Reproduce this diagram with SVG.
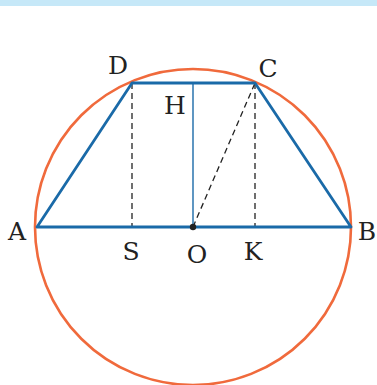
<svg xmlns="http://www.w3.org/2000/svg" width="377" height="385" viewBox="0 0 377 385">
<style>
.lbl{font-family:"DejaVu Serif","Liberation Serif",serif;font-size:25px;fill:#222;text-anchor:middle}
.dash{stroke:#222;stroke-width:1.3;stroke-dasharray:6,4;fill:none}
</style>
<rect x="0" y="0" width="377" height="6" fill="#c6e8f8"/>
<g id="circle"><circle cx="193" cy="227" r="158" fill="none" stroke="#f06a3c" stroke-width="2.6"/></g>
<g id="connectors">
<line class="dash" x1="132" y1="83" x2="132" y2="227"/>
<line class="dash" x1="255" y1="83" x2="255" y2="227"/>
<line class="dash" x1="193" y1="227" x2="255" y2="83"/>
<line x1="193" y1="83" x2="193" y2="227" stroke="#1a6aa8" stroke-width="1.4"/>
<polygon points="37,227 351,227 255,83 132,83" fill="none" stroke="#1a6aa8" stroke-width="2.8" stroke-linejoin="round"/>
</g>
<g id="O"><circle cx="193" cy="227" r="3.2" fill="#222"/><text class="lbl" x="197" y="263">O</text></g>
<g id="A"><text class="lbl" x="17" y="240">A</text></g>
<g id="B"><text class="lbl" x="367" y="240">B</text></g>
<g id="C"><text class="lbl" x="268" y="77">C</text></g>
<g id="D"><text class="lbl" x="118" y="74">D</text></g>
<g id="H"><text class="lbl" x="175" y="114">H</text></g>
<g id="S"><text class="lbl" x="131" y="260">S</text></g>
<g id="K"><text class="lbl" x="253" y="260">K</text></g>
</svg>
